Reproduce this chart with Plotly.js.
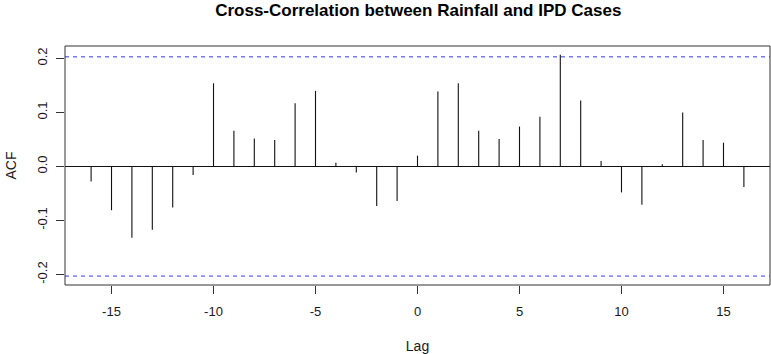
<!DOCTYPE html>
<html>
<head>
<meta charset="utf-8">
<script src="https://cdn.plot.ly/plotly-3.0.1.min.js"></script>
<style>html,body{margin:0;padding:0;background:#fff;}#chart{width:771px;height:354px;}</style>
</head>
<body>
<div id="chart"></div>
<script>
const lags = [-16,-15,-14,-13,-12,-11,-10,-9,-8,-7,-6,-5,-4,-3,-2,-1,0,1,2,3,4,5,6,7,8,9,10,11,12,13,14,15,16];
const acfValues = [-0.028,-0.081,-0.132,-0.117,-0.076,-0.016,0.154,0.066,0.052,0.049,0.117,0.140,0.007,-0.011,-0.073,-0.064,0.020,0.139,0.154,0.066,0.051,0.074,0.092,0.207,0.122,0.010,-0.048,-0.071,0.004,0.100,0.049,0.044,-0.038];
const confLimit = 0.203;
const xTickVals = [-15,-10,-5,0,5,10,15];
const xTickText = ["-15","-10","-5","0","5","10","15"];
const yTickVals = [-0.2,-0.1,0.0,0.1,0.2];
const yTickText = ["-0.2","-0.1","0.0","0.1","0.2"];
const titleText = "Cross-Correlation between Rainfall and IPD Cases";
const xLabel = "Lag";
const yLabel = "ACF";

const xs = [], ys = [];
lags.forEach((l, i) => { xs.push(l, l, null); ys.push(0, acfValues[i], null); });

const font = "Liberation Sans, Arial, sans-serif";
const txt = "#1a1a1a";
const xr = [-17.28, 17.28];

const traces = [
  {x: xs, y: ys, mode: "lines", type: "scatter", line: {color: "#111", width: 1.1}, hoverinfo: "skip", showlegend: false},
  {x: xr, y: [confLimit, confLimit], mode: "lines", type: "scatter", line: {color: "rgb(50,50,255)", width: 1, dash: "4px,4px"}, showlegend: false, hoverinfo: "skip"},
  {x: xr, y: [-confLimit, -confLimit], mode: "lines", type: "scatter", line: {color: "rgb(50,50,255)", width: 1, dash: "4px,4px"}, showlegend: false, hoverinfo: "skip"}
];

const layout = {
  width: 771, height: 354,
  margin: {l: 65, r: 1, t: 46, b: 69, pad: 0},
  paper_bgcolor: "#fff", plot_bgcolor: "#fff",
  font: {family: font, size: 13, color: txt},
  title: {text: "<b>" + titleText + "</b>", font: {family: font, size: 17, color: "#000"}, x: 0.5425, xanchor: "center", xref: "container", y: 1 - 10/354, yanchor: "middle", yref: "container"},
  xaxis: {
    range: xr, tickvals: xTickVals, ticktext: xTickText, ticks: "outside", ticklen: 8, tickcolor: "#333", tickwidth: 1,
    showgrid: false, zeroline: false, showline: false, fixedrange: true,
    tickfont: {size: 13, color: txt}, ticklabelstandoff: 6,
    title: {text: xLabel, font: {size: 14, color: txt}, standoff: 26}
  },
  yaxis: {
    range: [-0.2195, 0.2231], tickvals: yTickVals, ticktext: yTickText, tickangle: -90,
    ticks: "outside", ticklen: 8, tickcolor: "#333", tickwidth: 1,
    showgrid: false, zeroline: true, zerolinecolor: "#111", zerolinewidth: 1, showline: false,
    tickfont: {size: 13, color: txt}, ticklabelstandoff: 4,
    title: {text: yLabel, font: {size: 14, color: txt}, standoff: 14}
  },
  shapes: [
    {type: "rect", xref: "paper", yref: "paper", x0: 0, x1: 1, y0: 0, y1: 1, line: {color: "#333", width: 1}}
  ]
};

Plotly.newPlot("chart", traces, layout, {staticPlot: true, displayModeBar: false});
</script>
</body>
</html>
